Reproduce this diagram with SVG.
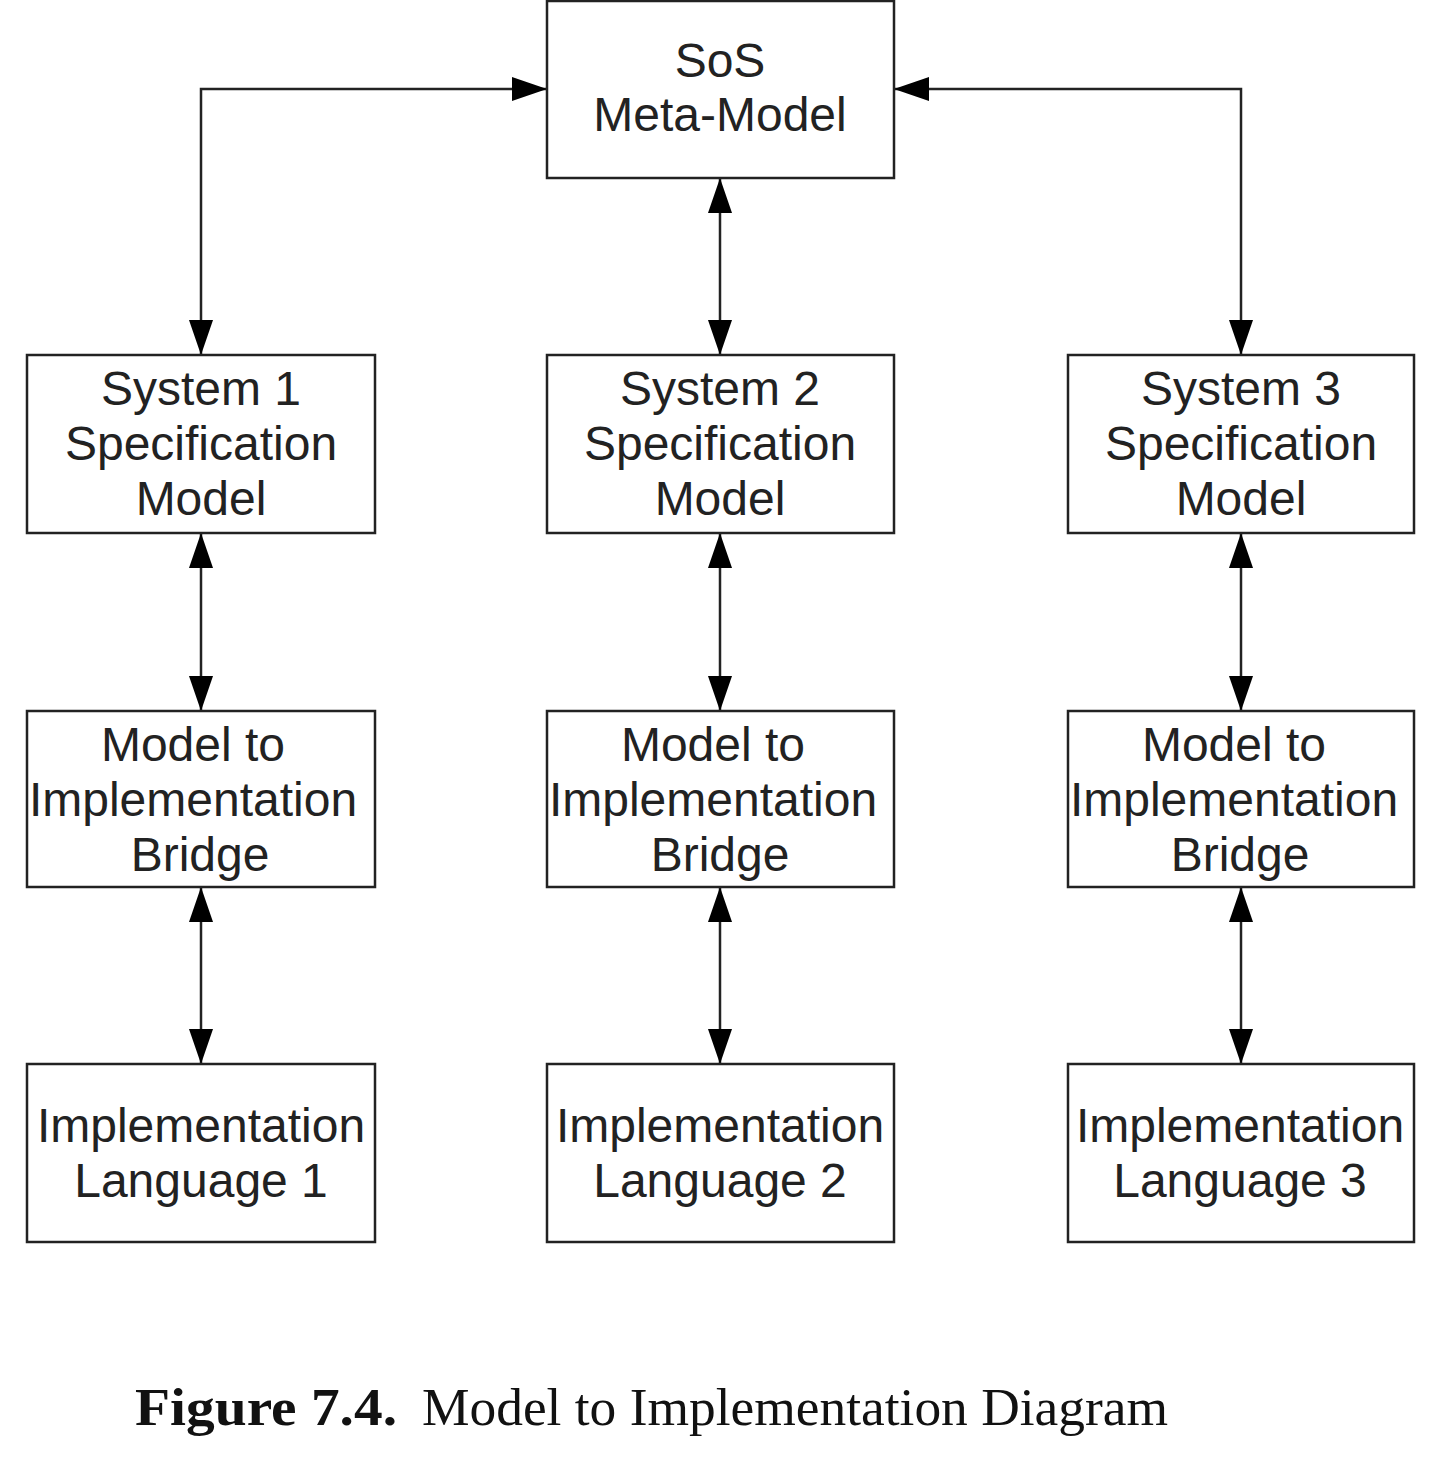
<svg xmlns="http://www.w3.org/2000/svg" width="1441" height="1459" viewBox="0 0 1441 1459">
<style>
.box{fill:#fff;stroke:#222;stroke-width:2.5}
.lbl{font-family:"Liberation Sans",Arial,sans-serif;font-size:48px;fill:#222;text-anchor:middle}
.con{fill:none;stroke:#222;stroke-width:2.5;marker-start:url(#ah);marker-end:url(#ah)}
.cap{font-family:"Liberation Serif","Times New Roman",serif;font-size:52px;fill:#111}
</style>
<defs>
<marker id="ah" viewBox="0 0 35 24" refX="35" refY="12" markerWidth="35" markerHeight="24" markerUnits="userSpaceOnUse" orient="auto-start-reverse">
<path d="M0,0 L35,12 L0,24 z" fill="#000"/>
</marker>
</defs>
<rect width="1441" height="1459" fill="#fff"/>
<g id="connectors">
<path class="con" d="M201,355 V89 H547"/>
<path class="con" d="M1241,355 V89 H894"/>
<path class="con" d="M720,178 V355"/>
<path class="con" d="M201,533 V711"/>
<path class="con" d="M720,533 V711"/>
<path class="con" d="M1241,533 V711"/>
<path class="con" d="M201,887 V1064"/>
<path class="con" d="M720,887 V1064"/>
<path class="con" d="M1241,887 V1064"/>
</g>
<g id="sos">
<rect class="box" x="547" y="1" width="347" height="177"/>
<text class="lbl" x="720" y="77">SoS</text>
<text class="lbl" x="720" y="131">Meta-Model</text>
</g>
<g id="spec1">
<rect class="box" x="27" y="355" width="348" height="178"/>
<text class="lbl" x="201" y="405">System 1</text>
<text class="lbl" x="201" y="460">Specification</text>
<text class="lbl" x="201" y="515">Model</text>
</g>
<g id="spec2">
<rect class="box" x="547" y="355" width="347" height="178"/>
<text class="lbl" x="720" y="405">System 2</text>
<text class="lbl" x="720" y="460">Specification</text>
<text class="lbl" x="720" y="515">Model</text>
</g>
<g id="spec3">
<rect class="box" x="1068" y="355" width="346" height="178"/>
<text class="lbl" x="1241" y="405">System 3</text>
<text class="lbl" x="1241" y="460">Specification</text>
<text class="lbl" x="1241" y="515">Model</text>
</g>
<g id="bridge1">
<rect class="box" x="27" y="711" width="348" height="176"/>
<text class="lbl" x="193" y="761">Model to</text>
<text class="lbl" x="193" y="816">Implementation</text>
<text class="lbl" x="200" y="871">Bridge</text>
</g>
<g id="bridge2">
<rect class="box" x="547" y="711" width="347" height="176"/>
<text class="lbl" x="713" y="761">Model to</text>
<text class="lbl" x="713" y="816">Implementation</text>
<text class="lbl" x="720" y="871">Bridge</text>
</g>
<g id="bridge3">
<rect class="box" x="1068" y="711" width="346" height="176"/>
<text class="lbl" x="1234" y="761">Model to</text>
<text class="lbl" x="1234" y="816">Implementation</text>
<text class="lbl" x="1240" y="871">Bridge</text>
</g>
<g id="lang1">
<rect class="box" x="27" y="1064" width="348" height="178"/>
<text class="lbl" x="201" y="1142">Implementation</text>
<text class="lbl" x="201" y="1197">Language 1</text>
</g>
<g id="lang2">
<rect class="box" x="547" y="1064" width="347" height="178"/>
<text class="lbl" x="720" y="1142">Implementation</text>
<text class="lbl" x="720" y="1197">Language 2</text>
</g>
<g id="lang3">
<rect class="box" x="1068" y="1064" width="346" height="178"/>
<text class="lbl" x="1240" y="1142">Implementation</text>
<text class="lbl" x="1240" y="1197">Language 3</text>
</g>
<g id="caption">
<text class="cap" x="135" y="1425" font-weight="bold" textLength="262" lengthAdjust="spacingAndGlyphs">Figure 7.4.</text>
<text class="cap" x="422" y="1425" textLength="746" lengthAdjust="spacingAndGlyphs">Model to Implementation Diagram</text>
</g>
</svg>
